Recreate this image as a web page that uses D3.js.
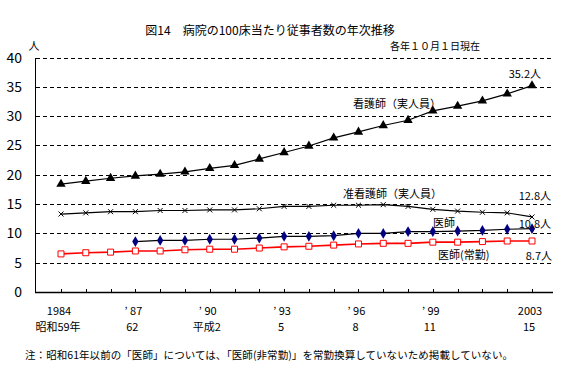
<!DOCTYPE html>
<html>
<head>
<meta charset="utf-8">
<script src="https://cdn.jsdelivr.net/npm/d3@7"></script>
<style>
  body { margin: 0; background: #fff; }
  svg text { font-family: "Noto Sans CJK JP", "Noto Sans", sans-serif; fill: #000; }
</style>
</head>
<body>
<div id="container"></div>
<script>
// données (par 100 lits, au 1er octobre)
const years = [1984, 1985, 1986, 1987, 1988, 1989, 1990, 1991, 1992, 1993,
  1994, 1995, 1996, 1997, 1998, 1999, 2000, 2001, 2002, 2003]
const nurses = [18.4, 18.9, 19.4, 19.8, 20.1, 20.5, 21.1, 21.6, 22.7, 23.8,
  24.9, 26.3, 27.3, 28.4, 29.3, 30.9, 31.7, 32.6, 33.8, 35.2]
const assistNurses = [13.3, 13.5, 13.7, 13.7, 13.9, 13.9, 14.0, 14.0, 14.2, 14.6,
  14.6, 14.8, 14.8, 14.9, 14.6, 14.1, 13.8, 13.6, 13.5, 12.8]
// 医師 : pas de données avant 1987
const doctors = [null, null, null, 8.6, 8.8, 8.8, 9.0, 9.0, 9.2, 9.5,
  9.5, 9.6, 10.0, 10.0, 10.3, 10.3, 10.4, 10.5, 10.7, 10.8]
const doctorsFull = [6.5, 6.7, 6.8, 7.0, 7.0, 7.2, 7.3, 7.3, 7.5, 7.7,
  7.8, 8.0, 8.2, 8.3, 8.3, 8.5, 8.5, 8.6, 8.7, 8.7]
const yTicks = [0, 5, 10, 15, 20, 25, 30, 35, 40]
const tickYears = [1984, 1987, 1990, 1993, 1996, 1999, 2003]
const tickWestern = ['1984', '\u2019 87', '\u2019 90', '\u2019 93', '\u2019 96', '\u2019 99', '2003']
const tickJapanese = ['昭和59年', '62', '平成2', '5', '8', '11', '15']

const width = 561, height = 375
const plotLeft = 36, plotRight = 553, plotTop = 57.5, plotBottom = 292

const svg = d3.select('#container').append('svg')
  .attr('width', width)
  .attr('height', height)

const x = d3.scalePoint()
  .domain(years)
  .range([61, 532])

const y = d3.scaleLinear()
  .domain([0, 40])
  .range([plotBottom, plotTop])

// titre
svg.append('text')
  .attr('x', 270).attr('y', 35)
  .attr('text-anchor', 'middle')
  .attr('font-size', '12px')
  .text('図14　病院の100床当たり従事者数の年次推移')
svg.append('text')
  .attr('x', 390).attr('y', 50)
  .attr('font-size', '10px')
  .attr('textLength', 90)
  .text('各年１０月１日現在')

// grille horizontale en pointillés
svg.append('g')
  .selectAll('line')
  .data(yTicks.filter(d => d > 0))
  .join('line')
  .attr('x1', plotLeft).attr('x2', plotRight)
  .attr('y1', d => Math.round(y(d)) + 0.5)
  .attr('y2', d => Math.round(y(d)) + 0.5)
  .attr('stroke', '#000')
  .attr('stroke-dasharray', '4,3')

// axe des ordonnées
svg.append('line')
  .attr('x1', plotLeft - 0.5).attr('x2', plotLeft - 0.5)
  .attr('y1', Math.round(y(40))).attr('y2', plotBottom + 0.5)
  .attr('stroke', '#000')
svg.append('g')
  .selectAll('text')
  .data(yTicks)
  .join('text')
  .attr('x', 22)
  .attr('y', d => y(d) + 5)
  .attr('text-anchor', 'end')
  .attr('font-size', '14px')
  .text(d => d)
svg.append('text')
  .attr('x', 34).attr('y', 50)
  .attr('text-anchor', 'middle')
  .attr('font-size', '11px')
  .text('人')

// axe des abscisses
svg.append('line')
  .attr('x1', plotLeft - 1).attr('x2', plotRight)
  .attr('y1', plotBottom + 0.5).attr('y2', plotBottom + 0.5)
  .attr('stroke', '#000')
  .attr('stroke-width', 1.3)
svg.append('g')
  .selectAll('line')
  .data(years)
  .join('line')
  .attr('x1', d => Math.round(x(d)) + 0.5)
  .attr('x2', d => Math.round(x(d)) + 0.5)
  .attr('y1', plotBottom).attr('y2', plotBottom - 3)
  .attr('stroke', '#000')

const xLabels = svg.append('g')
tickYears.forEach((yr, i) => {
  xLabels.append('text')
    .attr('x', x(yr) - 2).attr('y', 315)
    .attr('text-anchor', 'middle')
    .attr('font-size', '11px')
    .text(tickWestern[i])
  xLabels.append('text')
    .attr('x', x(yr) - 3).attr('y', 331)
    .attr('text-anchor', 'middle')
    .attr('font-size', '11px')
    .text(tickJapanese[i])
})

/**
 * trace une série : ligne + marqueurs
 */
function drawSeries(values, color, lineWidth, symbol, size, fill, stroke) {
  const pts = years.map((yr, i) => ({ yr, v: values[i] })).filter(d => d.v !== null)
  const line = d3.line()
    .x(d => x(d.yr))
    .y(d => y(d.v))
  svg.append('path')
    .datum(pts)
    .attr('d', line)
    .attr('fill', 'none')
    .attr('stroke', color)
    .attr('stroke-width', lineWidth)
  svg.append('g')
    .selectAll('path')
    .data(pts)
    .join('path')
    .attr('transform', d => `translate(${x(d.yr)},${y(d.v)})`)
    .attr('d', d3.symbol().type(symbol).size(size))
    .attr('fill', fill)
    .attr('stroke', stroke)
    .attr('stroke-width', 1)
}

drawSeries(nurses, '#000', 1.2, d3.symbolTriangle, 38, '#000', 'none')
drawSeries(assistNurses, '#000', 1.2, d3.symbolTimes, 18, 'none', '#000')
drawSeries(doctors, '#000', 1.2, d3.symbolDiamond, 34, '#000080', 'none')
drawSeries(doctorsFull, '#ff0000', 1.6, d3.symbolSquare, 36, '#fff', '#ff0000')

// étiquettes des séries
const labels = [
  { t: '看護師（実人員）', x: 353, y: 108, a: 'start' },
  { t: '35.2人', x: 541, y: 78, a: 'end' },
  { t: '准看護師（実人員）', x: 343, y: 198, a: 'start' },
  { t: '12.8人', x: 551, y: 200, a: 'end' },
  { t: '医師', x: 433, y: 227, a: 'start' },
  { t: '10.8人', x: 551, y: 228, a: 'end' },
  { t: '医師(常勤)', x: 438, y: 259, a: 'start' },
  { t: '8.7人', x: 552, y: 260, a: 'end' }
]
svg.append('g')
  .selectAll('text')
  .data(labels)
  .join('text')
  .attr('x', d => d.x).attr('y', d => d.y)
  .attr('text-anchor', d => d.a)
  .attr('font-size', '11px')
  .text(d => d.t)

// note
svg.append('text')
  .attr('x', 25).attr('y', 359)
  .attr('font-size', '10.5px')
  .attr('textLength', 488)
  .text('注：昭和61年以前の「医師」については、「医師(非常勤)」を常勤換算していないため掲載していない。')
</script>
</body>
</html>
